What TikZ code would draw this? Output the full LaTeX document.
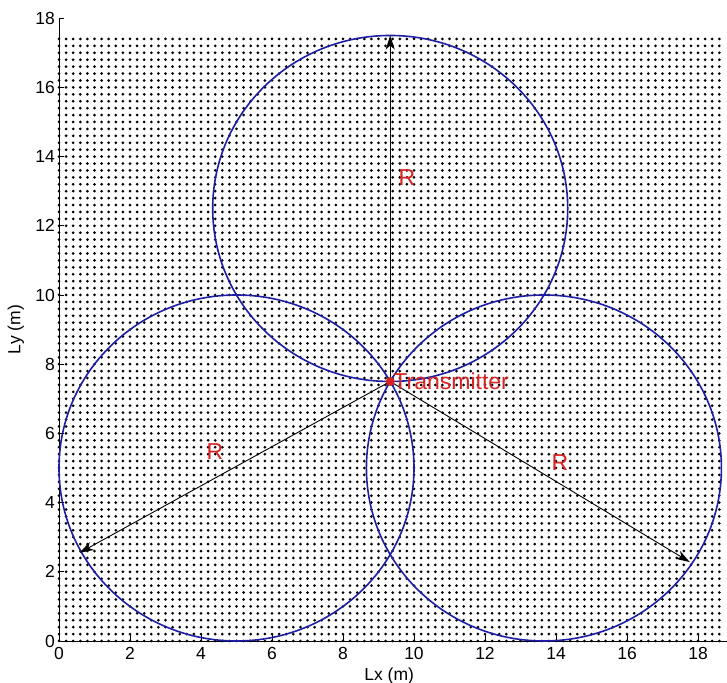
\documentclass[tikz,border=0pt]{standalone}
\usepackage{fontspec}
\setmainfont{Liberation Sans}
\usetikzlibrary{arrows.meta}
\definecolor{circblue}{RGB}{30,30,165}
\definecolor{txred}{RGB}{215,35,35}
\begin{document}
\begin{tikzpicture}[x=35.5pt,y=34.6pt,
  dotrow/.style={line width=3.0pt, line cap=round, dash pattern=on 0pt off 7.1pt},
  circ/.style={draw=circblue, line width=1.6pt},
  arr/.style={draw=black, line width=0.9pt, -{Stealth[length=14pt,width=9pt,inset=4pt]}},
  ticklab/.style={font=\fontsize{17.5}{18}\selectfont, inner sep=0pt},
  axlab/.style={font=\fontsize{17.5}{18}\selectfont, inner sep=0pt},
  rlab/.style={text=txred, font=\fontsize{23}{24}\selectfont, inner sep=0pt}]
\useasboundingbox (-1.662,-1.214) rectangle (18.817,18.526);
% dot grid
\foreach \j in {0,...,87} {
  \draw[dotrow] (0,\j*0.2) -- (18.61,\j*0.2);
}
% axes
\draw[line width=0.8pt] (0,18) -- (0,0) -- (18.82,0);
\foreach \v in {0,2,...,18} {
  \draw[line width=0.8pt] (\v,0) -- ++(0,6pt);
  \node[ticklab, anchor=north] (xt\v) at ([yshift=-6pt]\v,0) {\v};
  \draw[line width=0.8pt] (0,\v) -- ++(5pt,0);
  \node[ticklab, anchor=east] (yt\v) at ([xshift=-4pt]0,\v) {\v};
}
\node[axlab, anchor=north] (xl) at (9.3,-0.76) {Lx (m)};
\node[axlab, rotate=90, anchor=north] (yl) at (-1.45,9) {Ly (m)};
% circles
\coordinate (T) at (9.33,7.5);
\coordinate (cL) at (5,5);
\coordinate (cR) at (13.66,5);
\coordinate (cT) at (9.33,12.5);
\draw[circ] (cL) circle [x radius=5, y radius=5];
\draw[circ] (cR) circle [x radius=5, y radius=5];
\draw[circ] (cT) circle [x radius=5, y radius=5];
% arrows
\coordinate (eT) at (9.33,17.5);
\coordinate (eL) at (0.58,2.55);
\coordinate (eR) at (17.77,2.28);
\draw[arr] (T) -- (eT);
\draw[arr] (T) -- (eL);
\draw[arr] (T) -- (eR);
% transmitter
\fill[txred] (T) circle [radius=4.5pt];
\node[rlab, anchor=west] (tx) at ([xshift=3pt]T) {Transmitter};
\node[rlab] (r1) at (9.8,13.38) {R};
\node[rlab] (r2) at (4.39,5.46) {R};
\node[rlab] (r3) at (14.11,5.17) {R};
\end{tikzpicture}
\end{document}
